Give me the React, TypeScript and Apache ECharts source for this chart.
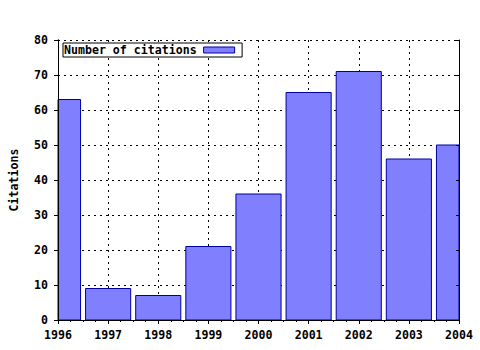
import React, { useEffect, useRef } from "react";
import * as echarts from "echarts";

const years = [1996, 1997, 1998, 1999, 2000, 2001, 2002, 2003, 2004];
const citations = [63, 9, 7, 21, 36, 65, 71, 46, 50];
const seriesName = "Number of citations";
const yAxisName = "Citations";

const FONT = "DejaVu Sans Mono";
const FS = 11.6;
const BAR_FILL = "#8080ff";
const BAR_EDGE = "#0000a0";
const BAR_FRACTION = 0.9;

export default function App() {
  const ref = useRef<HTMLDivElement>(null);
  useEffect(() => {
    document.body.style.margin = "0";
    const chart = echarts.init(ref.current!, null, { renderer: "svg" });
    const dotted = { color: "#000", width: 1, type: [2, 4] as number[] };
    const txt = { fontFamily: FONT, fontWeight: "bold" as const, fontSize: FS, color: "#000" };
    const xBase = { type: "value" as const, min: years[0], max: years[years.length - 1], interval: 1 };
    const yBase = { type: "value" as const, min: 0, max: 80, interval: 10 };
    chart.setOption({
      animation: false,
      backgroundColor: "#fff",
      grid: { left: 57, top: 40, width: 402, height: 280, containLabel: false },
      legend: {
        left: 63,
        top: 43,
        align: "right",
        itemWidth: 31,
        itemHeight: 6,
        backgroundColor: "#fff",
        borderColor: "#000",
        borderWidth: 1,
        borderRadius: 0,
        padding: [1, 7, 1, 1],
        textStyle: { ...txt, lineHeight: 12, padding: [0, 2, 0, 0] },
        data: [
          {
            name: seriesName,
            icon: "rect",
            itemStyle: { color: BAR_FILL, borderColor: BAR_EDGE, borderWidth: 1 },
          },
        ],
        z: 10,
      },
      xAxis: [
        {
          ...xBase,
          position: "bottom",
          axisLine: { show: true, lineStyle: { color: "#000", width: 1 } },
          axisTick: { show: true, inside: false, length: 4, lineStyle: { color: "#000" } },
          minorTick: { show: true, splitNumber: 4, length: 2, lineStyle: { color: "#000" } },
          splitLine: { show: true, lineStyle: dotted },
          axisLabel: { ...txt, margin: 9, formatter: (v: number) => String(v) },
        },
        {
          ...xBase,
          position: "top",
          z: 5,
          axisLine: { show: true, lineStyle: { color: "#000", width: 1 } },
          axisTick: { show: true, inside: true, length: 3, lineStyle: { color: "#000" } },
          minorTick: { show: true, splitNumber: 4, length: 2, lineStyle: { color: "#000" } },
          splitLine: { show: false },
          axisLabel: { show: false },
        },
        {
          ...xBase,
          position: "bottom",
          z: 5,
          axisLine: { show: true, onZero: false, lineStyle: { color: "#000", width: 1 } },
          axisTick: { show: false },
          splitLine: { show: false },
          axisLabel: { show: false },
        },
      ],
      yAxis: [
        {
          ...yBase,
          position: "left",
          axisLine: { show: true, lineStyle: { color: "#000", width: 1 } },
          axisTick: { show: true, inside: false, length: 4, lineStyle: { color: "#000" } },
          splitLine: { show: true, lineStyle: dotted },
          axisLabel: { ...txt, margin: 10 },
          name: yAxisName,
          nameLocation: "middle",
          nameGap: 38,
          nameTextStyle: { ...txt },
        },
        {
          ...yBase,
          position: "right",
          z: 5,
          axisLine: { show: true, lineStyle: { color: "#000", width: 1 } },
          axisTick: { show: true, inside: true, length: 3, lineStyle: { color: "#000" } },
          splitLine: { show: false },
          axisLabel: { show: false },
        },
        {
          ...yBase,
          position: "left",
          z: 5,
          axisLine: { show: true, onZero: false, lineStyle: { color: "#000", width: 1 } },
          axisTick: { show: false },
          splitLine: { show: false },
          axisLabel: { show: false },
        },
      ],
      series: [
        {
          name: seriesName,
          type: "custom",
          xAxisIndex: 0,
          yAxisIndex: 0,
          data: years.map((y, i) => [y, citations[i]]),
          renderItem: (params: any, api: any) => {
            const x = api.value(0);
            const v = api.value(1);
            const p0 = api.coord([x - BAR_FRACTION / 2, v]);
            const p1 = api.coord([x + BAR_FRACTION / 2, 0]);
            const cs = params.coordSys;
            const shape = echarts.graphic.clipRectByRect(
              { x: p0[0], y: p0[1], width: p1[0] - p0[0], height: p1[1] - p0[1] },
              { x: cs.x, y: cs.y, width: cs.width, height: cs.height }
            );
            if (!shape) return null;
            return {
              type: "rect",
              shape,
              style: { fill: BAR_FILL, stroke: BAR_EDGE, lineWidth: 1 },
            };
          },
        },
      ],
    });
    return () => chart.dispose();
  }, []);
  return <div ref={ref} style={{ width: 480, height: 350 }} />;
}
